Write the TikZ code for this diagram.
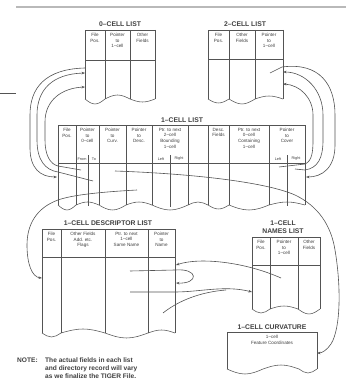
\documentclass[tikz,border=0pt]{standalone}
\usepackage{fontspec}
\setmainfont{Liberation Sans}
\usetikzlibrary{arrows.meta}
\definecolor{ink}{gray}{0.33}
\definecolor{txt}{gray}{0.25}
\tikzset{
  ln/.style={draw=ink, line width=0.55pt},
  con/.style={draw=ink, line width=0.6pt},
  arr/.style={con, -{Stealth[length=3.5pt,width=2.6pt]}},
  hd/.style={font=\fontsize{4.6}{5.6}\selectfont, align=center, inner sep=0pt, anchor=north, text=txt},
  sub/.style={font=\fontsize{3.8}{4}\selectfont, inner sep=0pt, text=txt},
  ttl/.style={font=\fontsize{6.8}{7.4}\selectfont\bfseries, align=center, inner sep=0pt, text=txt},
  note/.style={font=\fontsize{6.6}{8}\selectfont\bfseries, align=left, inner sep=0pt, anchor=north west, text=txt}
}
% #1 left, #2 right, #3 top, #4 header line, #5 bottom base, #6 list a/b/amp
\newcommand{\torntab}[6]{%
  \draw[ln] (#1,#5) -- (#1,#3) -- (#2,#3) -- (#2,#5);
  \draw[ln] (#1,#4) -- (#2,#4);
  \foreach \a/\b/\d in {#6}{%
    \draw[ln] (\a,#5) sin ({(\a+\b)/2},{#5+\d}) cos (\b,#5);
    \draw[ln] (\b,#3) -- (\b,#5);
  }%
}
\begin{document}
\begin{tikzpicture}[x=1pt,y=-1pt]
\useasboundingbox (0,0) rectangle (346,385);
\fill[white] (0,0) rectangle (346,385);
% page edges
\draw[gray!55, line width=1.6pt] (16,7) -- (346,7);
\draw[ink, line width=0.6pt] (0,93) -- (16,93);

% ---------- 0-CELL LIST ----------
\node[ttl] (t0) at (120,24) {0--CELL LIST};
\torntab{85}{155}{30}{60}{99}{85/105/5, 105/130/-4, 130/155/3}
\node[hd] (h01) at (95,33) {File\\Pos.};
\node[hd] (h02) at (117.5,33) {Pointer\\to\\1--cell};
\node[hd] (h03) at (142.5,33) {Other\\Fields};

% ---------- 2-CELL LIST ----------
\node[ttl] (t2) at (245,24) {2--CELL LIST};
\torntab{208}{283}{30}{59}{99}{208/229/4, 229/255/5, 255/283/-3}
\node[hd] (h21) at (218.5,33) {File\\Pos.};
\node[hd] (h22) at (242,33) {Other\\Fields};
\node[hd] (h23) at (269,33) {Pointer\\to\\1--cell};

% ---------- 1-CELL LIST ----------
\node[ttl] (t1) at (182,120) {1--CELL LIST};
\torntab{58}{305}{125}{163}{205}{58/76/5, 76/99/-3, 99/126/5, 126/152/-3, 152/188/5, 188/208/-3, 208/229/4, 229/269/5, 269/305/-3}
\draw[ln] (88,155) -- (88,206);
\draw[ln] (170,155) -- (170,207);
\draw[ln] (287,155) -- (287,206);
\node[hd] (h11) at (67,128) {File\\Pos.};
\node[hd] (h12) at (87.5,128) {Pointer\\to\\0--cell};
\node[hd] (h13) at (112.5,128) {Pointer\\to\\Curv.};
\node[hd] (h14) at (139,128) {Pointer\\to\\Desc.};
\node[hd] (h15) at (170,128) {Ptr. to next\\2--cell\\Bounding\\1--cell};
\node[hd] (h17) at (218.5,128) {Desc.\\Fields};
\node[hd] (h18) at (249,128) {Ptr. to next\\0--cell\\Containing\\1--cell};
\node[hd] (h19) at (287,128) {Pointer\\to\\Cover};
\node[sub] (s1a) at (82,159) {From};
\node[sub] (s1b) at (94,159) {To};
\node[sub] (s1c) at (161,159) {Left};
\node[sub] (s1d) at (179,159) {Right};
\node[sub] (s1e) at (278,159) {Left};
\node[sub] (s1f) at (296,159) {Right};

% ---------- 1-CELL DESCRIPTOR LIST ----------
\node[ttl] (td) at (108,223) {1--CELL DESCRIPTOR LIST};
\torntab{42}{175}{229}{257}{333}{42/61/4, 61/105/-4, 105/148/5, 148/175/-3}
\node[hd] (hd1) at (51.5,232) {File\\Pos.};
\node[hd] (hd2) at (83,232) {Other Fields\\Add. etc.\\Flags};
\node[hd] (hd3) at (126.5,232) {Ptr. to next\\1--cell\\Same Name};
\node[hd] (hd4) at (161.5,232) {Pointer\\to\\Name};

% ---------- 1-CELL NAMES LIST ----------
\node[ttl] (tn) at (283,227) {1--CELL\\NAMES LIST};
\torntab{252}{320}{237}{265}{309}{252/270/4, 270/298/-3, 298/320/5}
\node[hd] (hn1) at (261,240) {File\\Pos.};
\node[hd] (hn2) at (284,240) {Pointer\\to\\1--cell};
\node[hd] (hn3) at (309,240) {Other\\Fields};

% ---------- 1-CELL CURVATURE ----------
\node[ttl] (tc) at (272,327) {1--CELL CURVATURE};
\draw[ln] (227,369) -- (227,332) -- (317,332) -- (317,369);
\draw[ln] (227,369) sin (245,374) cos (263,369) sin (281,365) cos (299,369) sin (308,373) cos (317,369);
\node[hd] (hc) at (272,335) {1--cell\\Feature Coordinates};

% ---------- NOTE ----------
\node[note] (nt) at (17,358) {NOTE:};
\node[note] (nx) at (45,358) {The actual fields in each list\\and directory record will vary\\as we finalize the TIGER File.};

% ---------- connector end points ----------
\coordinate (a0) at (85,68);   \coordinate (a1) at (57,177);
\coordinate (b1) at (93,181);  \coordinate (b0) at (85,73);
\coordinate (c1) at (81,170);  \coordinate (c0) at (85,87);
\coordinate (d0) at (270,73);  \coordinate (d1) at (306,177);
\coordinate (e1) at (295,169); \coordinate (e0) at (283,72);
\coordinate (f1) at (279,167); \coordinate (f0) at (283,84);
\coordinate (cv) at (115,171); \coordinate (cb) at (317,353);
\coordinate (ds) at (137,190); \coordinate (de) at (42,278);
\coordinate (np) at (281,278); \coordinate (nd) at (176,265);
\coordinate (lp) at (130,271); \coordinate (le) at (176,283);
\coordinate (mp) at (130,292); \coordinate (me) at (252,292);
\coordinate (qp) at (163,313); \coordinate (qe) at (226,290);

% ---------- connectors: 0-cell <-> 1-cell ----------
\draw[arr] (a0) .. controls (45,69) and (30,88) .. (30,115) -- (30,148)
  .. controls (30,168) and (40,177) .. (a1);
\draw[arr] (b1) -- (58,172) .. controls (45,170) and (37,160) .. (37,140) -- (37,115)
  .. controls (37,90) and (52,74) .. (b0);
\draw[arr] (c1) -- (58,166) .. controls (50,164) and (45,155) .. (45,140) -- (45,122)
  .. controls (45,100) and (62,88) .. (c0);

% ---------- connectors: 2-cell <-> 1-cell ----------
\draw[arr] (d0) -- (282,67) .. controls (320,62) and (335,85) .. (335,115) -- (335,145)
  .. controls (335,168) and (322,177) .. (d1);
\draw[arr] (e1) -- (305,170) .. controls (318,168) and (323,158) .. (323,140) -- (323,115)
  .. controls (323,90) and (305,72) .. (e0);
\draw[arr] (f1) -- (305,164) .. controls (312,161) and (313,152) .. (313,140) -- (313,115)
  .. controls (313,98) and (300,85) .. (f0);

% ---------- pointer to curvature ----------
\draw[arr] (cv) .. controls (200,174) and (268,183) .. (295,195)
  .. controls (318,206) and (331,225) .. (335,250)
  .. controls (341,285) and (341,328) .. (331,344)
  .. controls (327,350) and (322,353) .. (cb);

% ---------- pointer to descriptor ----------
\draw[arr] (ds) .. controls (100,192) and (72,195) .. (58,200)
  .. controls (36,208) and (27,225) .. (27,245)
  .. controls (27,264) and (32,277) .. (de);

% ---------- descriptor <-> names ----------
\draw[arr] (np) .. controls (245,262) and (200,257) .. (nd);
\draw[arr] (lp) -- (175,270) .. controls (199,268) and (199,284) .. (le);
\draw[arr] (mp) -- (175,292) .. controls (200,292) and (225,285) .. (me);
\draw[con] (qp) .. controls (178,301) and (200,292) .. (qe);
\end{tikzpicture}
\end{document}
